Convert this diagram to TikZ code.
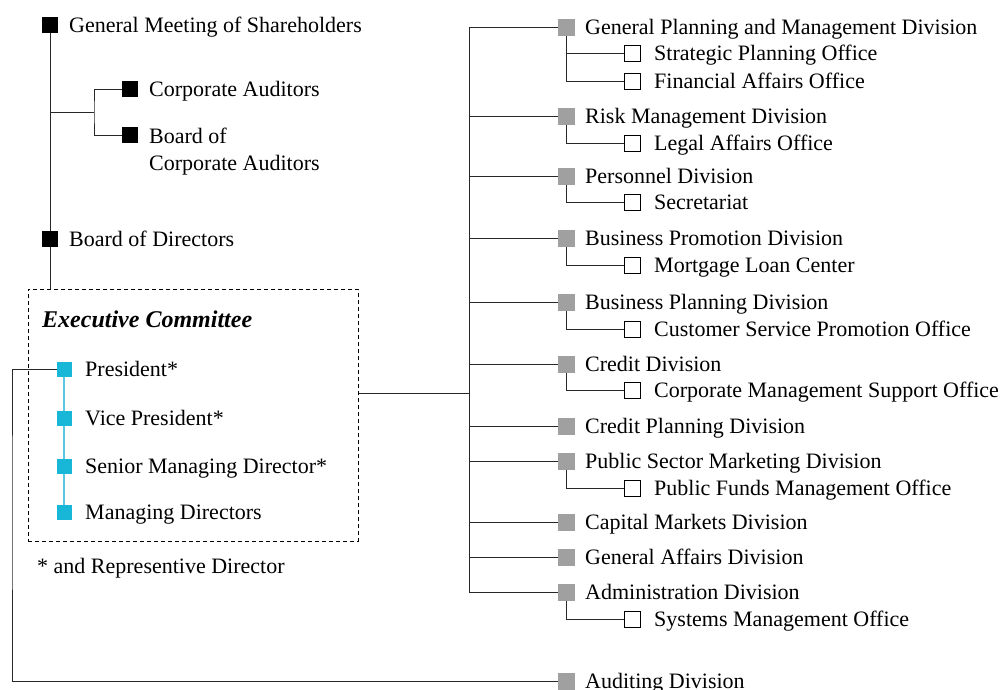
\documentclass[tikz,border=0pt]{standalone}
\usepackage{fontspec}
\setmainfont{Liberation Serif}
\definecolor{cyanbox}{RGB}{24,183,216}
\definecolor{cyanline}{RGB}{90,200,225}
\definecolor{graybox}{RGB}{160,160,160}
\definecolor{lineclr}{RGB}{40,40,40}
\begin{document}
\begin{tikzpicture}[x=1pt,y=-1pt,
 sq/.style={minimum size=16pt,inner sep=0pt,outer sep=0pt,draw=none},
 bsq/.style={sq,fill=black},
 csq/.style={sq,minimum size=15pt,fill=cyanbox},
 gsq/.style={sq,minimum size=17pt,fill=graybox},
 osq/.style={sq,minimum size=16pt,draw=black,line width=0.8pt,fill=white},
 lbl/.style={anchor=base west,inner sep=0pt,font=\fontsize{22}{27}\selectfont},
 conn/.style={line width=0.9pt,draw=lineclr}]
\useasboundingbox (0,0) rectangle (1003,689);

% left column
\node[bsq] (gms) at (50,25) {};
\node[lbl] (gms-t) at (69,32) {General Meeting of Shareholders};
\node[bsq] (ca) at (130,89) {};
\node[lbl] (ca-t) at (149,96) {Corporate Auditors};
\node[bsq] (bca) at (130,135) {};
\node[lbl,align=left] (bca-t) at (149,170) {Board of\\Corporate Auditors};
\node[bsq] (bod) at (50,239) {};
\node[lbl] (bod-t) at (69,246) {Board of Directors};

\node[draw=black,line width=0.9pt,dash pattern=on 4pt off 3pt,minimum width=330pt,minimum height=252pt,inner sep=0pt,anchor=north west] (exec) at (28,289) {};
\node[lbl,font=\fontsize{24}{27}\selectfont\bfseries\itshape] (exec-t) at (42,327) {Executive Committee};

\node[csq] (pres) at (64,369) {};
\node[lbl] (pres-t) at (85,376) {President*};
\node[csq] (vp) at (64,418) {};
\node[lbl] (vp-t) at (85,425) {Vice President*};
\node[csq] (smd) at (64,466) {};
\node[lbl] (smd-t) at (85,473) {Senior Managing Director*};
\node[csq] (md) at (64,512) {};
\node[lbl] (md-t) at (85,519) {Managing Directors};
\node[lbl] (note) at (37,573) {* and Representive Director};

\coordinate (caj) at (50,112);
\coordinate (cab) at (94,112);
\coordinate (audc) at (12,500);
\coordinate (bus) at (469,393);

% right column: divisions
\foreach \n/\y/\t in {gpm/27/General Planning and Management Division,
  rmd/116/Risk Management Division,
  per/176/Personnel Division,
  bpr/238/Business Promotion Division,
  bpl/302/Business Planning Division,
  cre/364/Credit Division,
  cpl/426/Credit Planning Division,
  psm/461/Public Sector Marketing Division,
  cap/522/Capital Markets Division,
  gad/557/General Affairs Division,
  adm/592/Administration Division,
  aud/681/Auditing Division}{
  \node[gsq] (\n) at (566,\y) {};
  \node[lbl] (\n-t) at (585,\y+7) {\t};
}
% offices
\foreach \n/\y/\t in {spo/53/Strategic Planning Office,
  fao/81/Financial Affairs Office,
  lao/143/Legal Affairs Office,
  sec/202/Secretariat,
  mlc/265/Mortgage Loan Center,
  csp/329/Customer Service Promotion Office,
  cms/390/Corporate Management Support Office,
  pfm/488/Public Funds Management Office,
  smo/619/Systems Management Office}{
  \node[osq] (\n) at (632,\y) {};
  \node[lbl] (\n-t) at (654,\y+7) {\t};
}

% connectors left
\draw[conn] (gms) -- (bod);
\draw[conn] (bod) -- (bod |- exec.north);
\draw[conn] (caj) -- (cab);
\draw[conn] (ca.west) -| (cab) |- (bca.west);
\draw[cyanline,line width=1.2pt] (pres) -- (md);
\draw[conn] (pres.west) -| (audc) |- (aud.west);

% connectors right
\draw[conn] (exec.east |- bus) -- (bus);
\draw[conn] (gpm.west -| bus) -- (adm.west -| bus);
\foreach \n in {gpm,rmd,per,bpr,bpl,cre,cpl,psm,cap,gad,adm}{
  \draw[conn] (\n.west -| bus) -- (\n.west);
}
\foreach \d/\o in {gpm/spo,gpm/fao,rmd/lao,per/sec,bpr/mlc,bpl/csp,cre/cms,psm/pfm,adm/smo}{
  \draw[conn] (\d.south) |- (\o.west);
}
% redraw squares on top of lines
\foreach \n in {gms,bod}{\node[bsq] at (\n) {};}
\foreach \n in {pres,vp,smd,md}{\node[csq] at (\n) {};}
\end{tikzpicture}
\end{document}
